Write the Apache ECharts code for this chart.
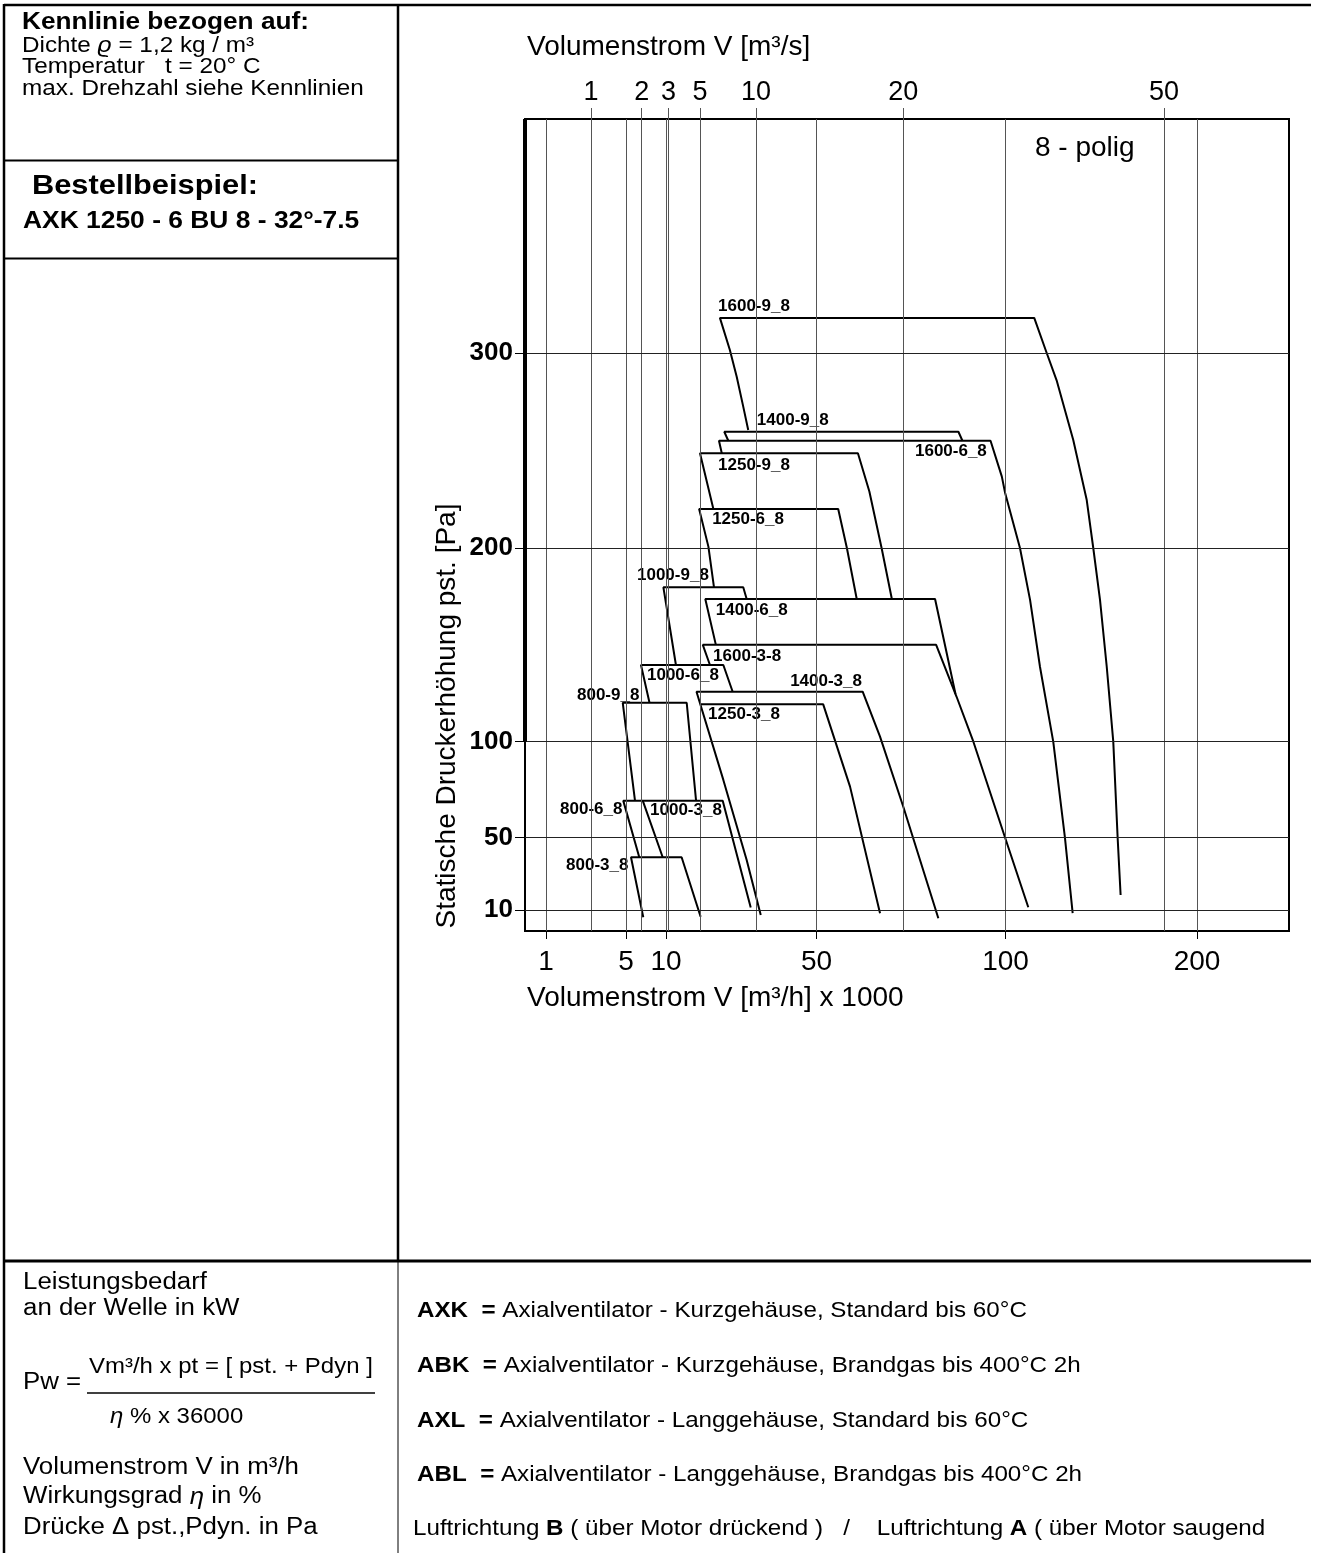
<!DOCTYPE html>
<html>
<head>
<meta charset="utf-8">
<script src="https://cdn.jsdelivr.net/npm/echarts@6/dist/echarts.min.js"></script>
<style>
html,body{margin:0;padding:0;background:#fff;}
#chart{width:1321px;height:1553px;}
</style>
</head>
<body>
<div id="chart"></div>
<script>
// ---------------- tick labels ----------------
const bottomTicks = [1, 5, 10, 50, 100, 200];          // Volumenstrom V [m³/h] x 1000
const topTicks = [1, 2, 3, 5, 10, 20, 50];              // Volumenstrom V [m³/s]
const pressureTicks = [10, 50, 100, 200, 300];          // Statische Druckerhöhung [Pa]

// ---------------- fan curves: [V in m³/h x 1000, pst in Pa] ----------------
const fan1600_9 = [[33.5,260.5],[31.9,272.5],[29.8,287.8],[27.6,301.5],[24.4,318],[114.5,318],[120.8,300],[125.8,286],[134.2,255.4],[141,224.6],[144.3,200],[147.7,173.2],[151.1,138.7],[154.4,100],[156.6,50],[158.1,18.3]];
const fan1400_9 = [[27.1,255],[25.8,259.6],[87.1,259.6],[88.2,255]];
const fan1600_6 = [[25.0,248.6],[24.1,255],[95.9,255],[99.0,236.6],[99.9,228.2],[107.3,200],[112.4,173.2],[117.4,138.7],[124.1,100],[130.0,50],[133.9,8.3]];
const fan1250_9 = [[22.3,220],[18,248.6],[60.5,248.6],[63.4,229],[66.5,200],[69.1,173.7]];
const fan1250_6 = [[22.5,179.7],[20.7,200.7],[17.8,220],[55.5,220],[57.7,200],[60.2,173.7]];
const fan1000_9 = [[12.5,139.6],[9.7,179.7],[31.9,179.7],[33.0,173.7]];
const fan1400_6 = [[23.1,150],[19.7,173.7],[80.7,173.7],[86.3,124.6]];
const fan1600_3 = [[21.2,139.6],[18.9,150],[81.0,150],[86.6,123.2],[91.2,100],[99.9,50],[111.5,11.5]];
const fan1000_6 = [[8.1,120.1],[7.1,139.6],[25.5,139.6],[28.5,125.8]];
const fan1400_3 = [[37.1,7.2],[33.0,37.7],[25.5,80.1],[17.2,125.8],[61.7,125.8],[66.1,102.6],[72.0,66.1],[81.6,5.4]];
const fan1250_3 = [[18.2,119.3],[51.7,119.3],[58.5,76.6],[66.1,8.2]];
const fan800_9  = [[6.26,69.3],[4.87,120.1],[14.96,120.1],[17.1,69.3]];
const fan800_6  = [[6.86,39.2],[4.89,69.3],[7.32,69.3],[9.62,39.2]];
const fan1000_3 = [[7.32,69.3],[25.3,69.3],[34.3,11.4]];
const fan800_3  = [[7.38,6.0],[5.7,39.2],[13.8,39.2],[18.2,6.3]];

const fanCurves = [fan1600_9, fan1400_9, fan1600_6, fan1250_9, fan1250_6, fan1000_9, fan1400_6, fan1600_3, fan1000_6, fan1400_3, fan1250_3, fan800_9, fan800_6, fan1000_3, fan800_3];

// ---------------- curve labels ----------------
const labelNames = ['1600-9_8','1400-9_8','1600-6_8','1250-9_8','1250-6_8','1000-9_8','1400-6_8','1600-3-8','1000-6_8','1400-3_8','1250-3_8','800-9_8','800-6_8','1000-3_8','800-3_8'];
const labelV = [23.8, 36.2, 75.2, 23.8, 21.9, 6.54, 23.1, 22.2, 7.81, 43.9, 20.6, 2.79, 1.81, 8.16, 2.16];
const labelP = [324.1, 265.6, 249.5, 242.6, 214.6, 185.8, 168.0, 144.2, 134.4, 131.1, 114.0, 124.1, 64.9, 64.4, 34.9];

// ---------------- non-linear nomogram scales (value -> axis unit) ----------------
const xScaleValues = [1, 3.6, 5, 7.2, 10, 10.8, 18, 36, 50, 72, 100, 180, 200];
const xScaleUnits  = [21, 66, 101, 116.7, 141, 143.5, 175, 231, 291.5, 378.3, 480.5, 639, 672];
const X_MAX = 764;
const yScaleValues = [10, 50, 100, 200, 300];
const yScaleUnits  = [21, 93.3, 189.3, 383, 578];
const Y_MAX = 812;

function interp(v, xs, ys) {
  let i = 0;
  if (v >= xs[xs.length - 1]) i = xs.length - 2;
  else if (v > xs[0]) { while (v > xs[i + 1]) i++; }
  const t = (v - xs[i]) / (xs[i + 1] - xs[i]);
  return ys[i] + t * (ys[i + 1] - ys[i]);
}
const fx = v => interp(v, xScaleValues, xScaleUnits);
const fy = p => interp(p, yScaleValues, yScaleUnits);

const bottomUnits = bottomTicks.map(fx);
const topUnits = topTicks.map(t => fx(t * 3.6));
const yUnits = pressureTicks.map(fy);

function tickLabel(u, units, labels) {
  let best = 0;
  for (let i = 1; i < units.length; i++) if (Math.abs(units[i] - u) < Math.abs(units[best] - u)) best = i;
  return String(labels[best]);
}

const FF = '"Liberation Sans", Arial, Helvetica, sans-serif';
const SX = 1.1;
function txt(x, y, text, size, opts) {
  opts = opts || {};
  return {
    type: 'text', x: x, y: y, silent: true,
    scaleX: opts.scaleX !== undefined ? opts.scaleX : SX,
    rotation: opts.rotation || 0,
    style: {
      text: text, fontSize: size, fontFamily: FF, fontWeight: opts.bold ? 'bold' : 'normal',
      fill: '#000', align: opts.align || 'left', verticalAlign: 'middle',
      rich: {
        b: { fontSize: size, fontFamily: FF, fontWeight: 'bold', fill: '#000' },
        i: { fontSize: size, fontFamily: FF, fontStyle: 'italic', fill: '#000' }
      }
    }
  };
}
function ln(x1, y1, x2, y2, w) {
  return { type: 'line', silent: true, shape: { x1: x1, y1: y1, x2: x2, y2: y2 }, style: { stroke: '#000', lineWidth: w } };
}

const gridX = bottomUnits.concat(topUnits);

const series = [];
series.push({
  type: 'line', data: [], silent: true, z: 1,
  markLine: {
    silent: true, symbol: 'none', animation: false, label: { show: false },
    data: gridX.map(u => ({ xAxis: u, lineStyle: { color: '#555', width: 1, type: 'solid' } }))
      .concat(yUnits.map(u => ({ yAxis: u, lineStyle: { color: '#222', width: 1, type: 'solid' } })))
      .concat([[{ coord: [0, fy(100)], lineStyle: { color: '#000', width: 4, type: 'solid' } }, { coord: [0, Y_MAX] }]])
  }
});
fanCurves.forEach((curve, k) => {
  series.push({
    type: 'line', name: labelNames[k], z: 3, symbol: 'none', showSymbol: false,
    data: curve.map(p => [fx(p[0]), fy(p[1])]),
    lineStyle: { color: '#000', width: 2 }
  });
});
series.push({
  type: 'scatter', z: 4, symbolSize: 0,
  data: labelNames.map((n, k) => ({ name: n, value: [fx(labelV[k]), fy(labelP[k])] })),
  label: { show: true, position: 'right', distance: 0, formatter: '{b}', fontSize: 17, fontWeight: 'bold', fontFamily: FF, color: '#000', opacity: 1 }
});

const option = {
  animation: false,
  backgroundColor: '#fff',
  grid: { left: 525, top: 119, width: X_MAX, height: Y_MAX, show: true, borderColor: '#000', borderWidth: 2, backgroundColor: 'transparent' },
  xAxis: [
    {
      type: 'value', position: 'bottom', min: 0, max: X_MAX,
      axisLine: { show: false }, splitLine: { show: false },
      axisTick: { show: true, customValues: bottomUnits, length: 8, lineStyle: { color: '#000', width: 1 } },
      axisLabel: { customValues: bottomUnits, formatter: v => tickLabel(v, bottomUnits, bottomTicks), fontSize: 28, fontFamily: FF, color: '#000', margin: 17 }
    },
    {
      type: 'value', position: 'top', min: 0, max: X_MAX,
      axisLine: { show: false }, splitLine: { show: false },
      axisTick: { show: true, customValues: topUnits, length: 11, lineStyle: { color: '#555', width: 1 } },
      axisLabel: { customValues: topUnits, formatter: v => tickLabel(v, topUnits, topTicks), fontSize: 27, fontFamily: FF, color: '#000', margin: 13 }
    }
  ],
  yAxis: {
    type: 'value', min: 0, max: Y_MAX,
    axisLine: { show: false }, splitLine: { show: false },
    axisTick: { show: true, customValues: yUnits, length: 10, lineStyle: { color: '#000', width: 1 } },
    axisLabel: { customValues: yUnits, formatter: v => tickLabel(v, yUnits, pressureTicks), fontSize: 26, fontWeight: 'bold', fontFamily: FF, color: '#000', margin: 12 }
  },
  series: series,
  graphic: {
    elements: [
      ln(4, 5, 1311, 5, 2.5),
      ln(4, 4, 4, 1553, 2.5),
      ln(398, 4, 398, 1262, 2.5),
      ln(398, 1262, 398, 1553, 1),
      ln(4, 160.5, 398, 160.5, 2),
      ln(4, 258.5, 398, 258.5, 2),
      ln(4, 1261, 1311, 1261, 3),
      ln(87, 1393, 375, 1393, 1.5),

      txt(22, 23, 'Kennlinie bezogen auf:', 23, { bold: true, scaleX: 1.14 }),
      txt(22, 46, 'Dichte {i|ϱ} = 1,2 kg / m³', 21.5, { scaleX: 1.13 }),
      txt(22, 67.5, 'Temperatur   t = 20° C', 21.5, { scaleX: 1.13 }),
      txt(22, 89, 'max. Drehzahl siehe Kennlinien', 21.5, { scaleX: 1.13 }),
      txt(32, 186, 'Bestellbeispiel:', 28, { bold: true }),
      txt(23, 221, 'AXK 1250 - 6 BU 8 - 32°-7.5', 24, { bold: true }),

      txt(23, 1283, 'Leistungsbedarf', 23.5),
      txt(23, 1309, 'an der Welle in kW', 23.5),
      txt(23, 1383, 'Pw =', 23.5),
      txt(89, 1367, 'Vm³/h x pt = [ pst. + Pdyn ]', 21.8),
      txt(110, 1417, '{i|η} % x 36000', 21.8),
      txt(23, 1468, 'Volumenstrom V in m³/h', 23.5),
      txt(23, 1497, 'Wirkungsgrad {i|η} in %', 23.5),
      txt(23, 1528, 'Drücke Δ pst.,Pdyn. in Pa', 23.5),

      txt(417, 1311, '{b|AXK}  {b|=} Axialventilator - Kurzgehäuse, Standard bis 60°C', 21.6, { scaleX: 1.12 }),
      txt(417, 1366, '{b|ABK}  {b|=} Axialventilator - Kurzgehäuse, Brandgas bis 400°C 2h', 21.6, { scaleX: 1.12 }),
      txt(417, 1421, '{b|AXL}  {b|=} Axialventilator - Langgehäuse, Standard bis 60°C', 21.6, { scaleX: 1.12 }),
      txt(417, 1475, '{b|ABL}  {b|=} Axialventilator - Langgehäuse, Brandgas bis 400°C 2h', 21.6, { scaleX: 1.12 }),
      txt(413, 1529, 'Luftrichtung {b|B} ( über Motor drückend )   /    Luftrichtung {b|A} ( über Motor saugend', 21.6, { scaleX: 1.12 }),

      txt(527, 47, 'Volumenstrom V [m³/s]', 28, { scaleX: 1 }),
      txt(527, 998, 'Volumenstrom V [m³/h] x 1000', 28, { scaleX: 1 }),
      txt(447, 716, 'Statische Druckerhöhung pst. [Pa]', 28, { scaleX: 1, rotation: Math.PI / 2, align: 'center' }),
      txt(1035, 148, '8 - polig', 28, { scaleX: 1 })
    ]
  }
};

const chart = echarts.init(document.getElementById('chart'), null, { renderer: 'canvas' });
chart.setOption(option);
</script>
</body>
</html>
